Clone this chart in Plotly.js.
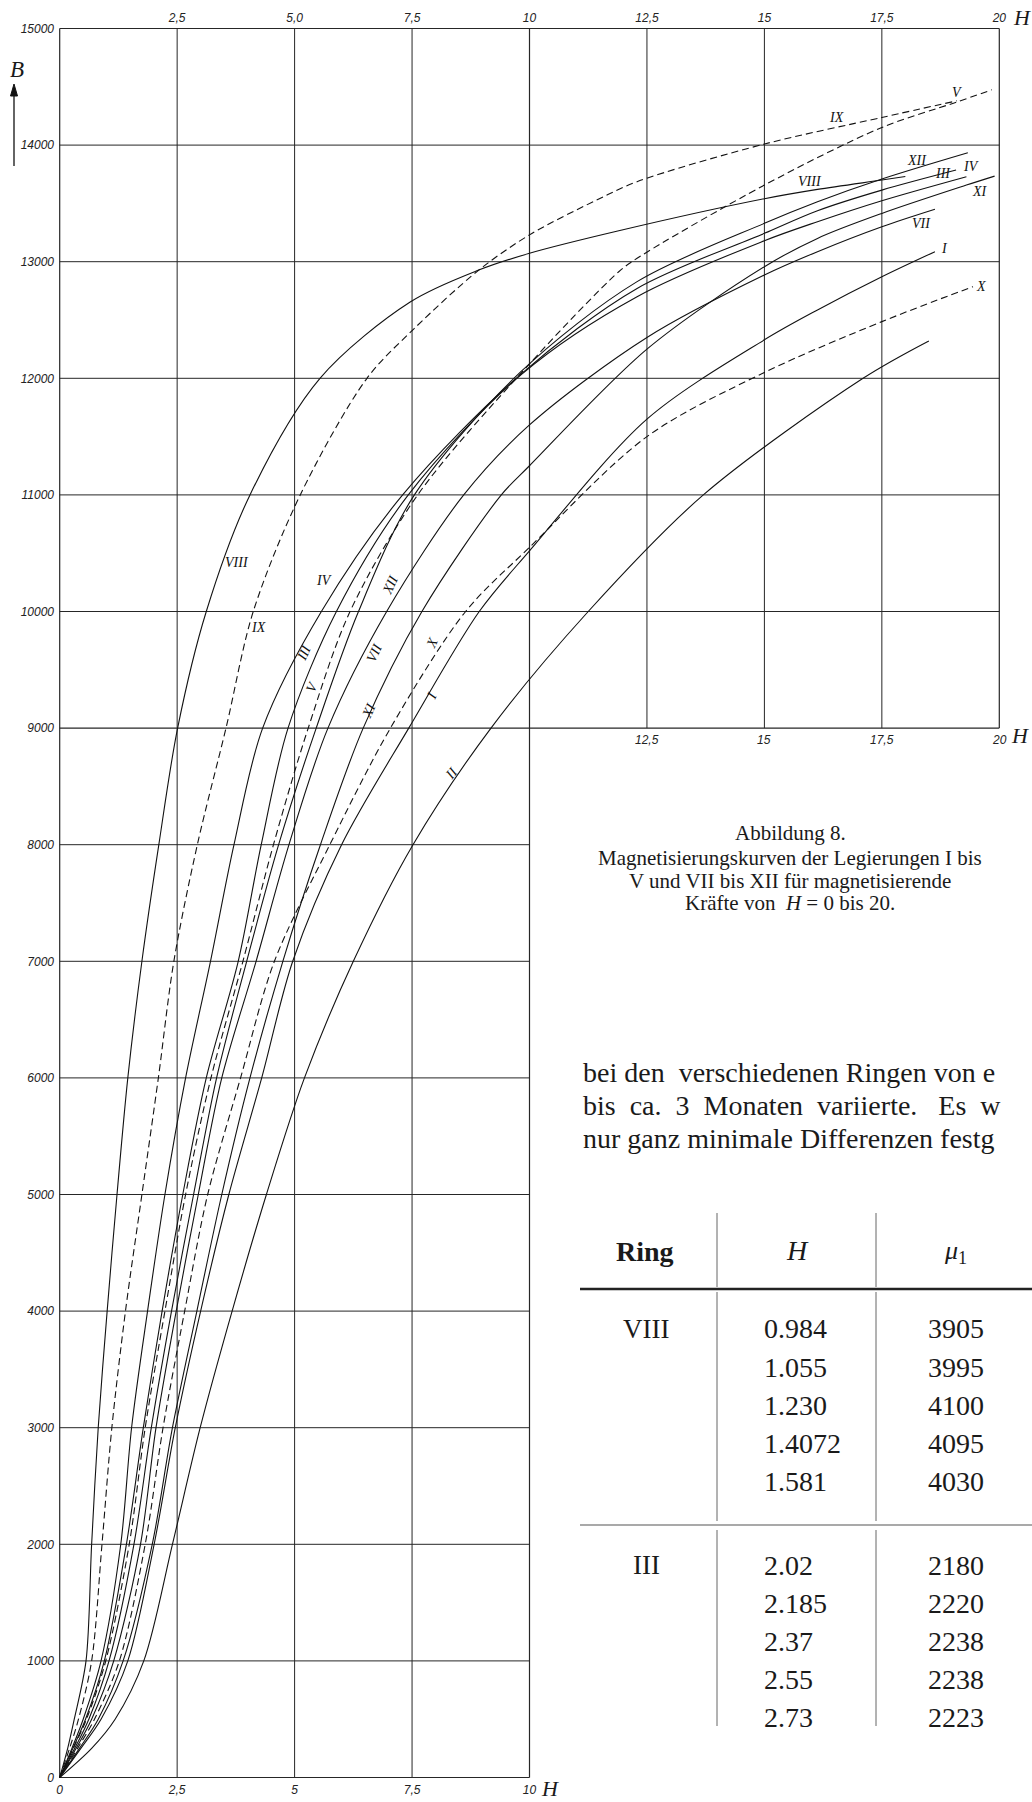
<!DOCTYPE html>
<html><head><meta charset="utf-8">
<script src="https://cdn.plot.ly/plotly-3.0.1.min.js"></script>
<style>html,body{margin:0;padding:0;background:#fff}#chart{width:1032px;height:1802px}</style>
</head><body><div id="chart"></div>
<script>
// ---------- data: B levels (Gauss) shared by the lower part of every curve ----------
const B_LOW = [0,250,500,1000,2000,3000,4000,5000,6000,7000,8000,9000,10000];

// H values read at B_LOW, then the upper continuation (H, B)
const VIII_H_low = [0,0.17,0.31,0.56,0.68,0.82,1.01,1.22,1.45,1.75,2.11,2.51,3.12];
const VIII_up_H  = [4.05,5.54,7.46,8.92,10,11.9,15,16.13,17.5,18.0];
const VIII_up_B  = [11000,12000,12654,12928,13072,13265,13540,13620,13700,13730];

const IX_H_low = [0,0.21,0.40,0.68,0.90,1.11,1.40,1.75,2.10,2.43,2.93,3.54,4.12];
const IX_up_H  = [5.12,6.54,7.54,8.92,10,11.38,12.29,15,17.5,19.1];
const IX_up_B  = [11000,12000,12424,12928,13230,13519,13686,14009,14237,14380];

const III_H_low = [0,0.26,0.50,0.88,1.30,1.53,1.87,2.24,2.68,3.21,3.71,4.32,5.57];
const III_up_H  = [7.3,9.8,12.29,15,16.13,17.5,19.08];
const III_up_B  = [11000,12030,12771,13243,13437,13614,13786];

const IV_H_low = [0,0.28,0.55,0.95,1.42,1.78,2.18,2.62,3.12,3.80,4.29,4.86,5.89];
const IV_up_H  = [7.42,9.85,12.29,15,16.13,17.5,19.3];
const IV_up_B  = [11000,12040,12700,13180,13343,13523,13729];

const V_H_low = [0,0.29,0.57,0.98,1.48,1.82,2.24,2.68,3.22,3.90,4.55,5.29,6.18];
const V_up_H  = [7.62,9.9,11.9,12.29,15,17.5,19.07,19.84];
const V_up_B  = [11000,12080,12914,13029,13657,14151,14366,14474];

const XII_H_low = [0,0.32,0.62,1.05,1.58,1.95,2.38,2.85,3.34,3.98,4.66,5.46,6.36];
const XII_up_H  = [7.55,9.8,12.29,15,16.13,17.5,19.33];
const XII_up_B  = [11000,12050,12829,13329,13514,13709,13934];

const VII_H_low = [0,0.35,0.68,1.15,1.72,2.05,2.48,2.95,3.45,4.18,4.88,5.71,6.96];
const VII_up_H  = [8.6,10,12.5,15,16.13,17.5,18.63];
const VII_up_B  = [11000,11600,12350,12886,13086,13300,13450];

const XI_H_low = [0,0.42,0.82,1.35,1.97,2.40,2.92,3.45,4.05,4.75,5.55,6.46,7.71];
const XI_up_H  = [9.4,10,12.5,15,16.13,17.5,19.3,19.9];
const XI_up_B  = [11000,11250,12250,12957,13200,13414,13657,13734];

const X_H_low = [0,0.38,0.74,1.27,1.82,2.20,2.66,3.15,3.85,4.57,5.75,7.04,8.64];
const X_up_H  = [10,12.5,15,17.5,19.44];
const X_up_B  = [10550,11500,12050,12486,12786];

const I_H_low = [0,0.45,0.88,1.45,2.01,2.46,3.00,3.60,4.30,4.96,6.00,7.43,8.93];
const I_up_H  = [10,12.5,15,16.13,17.5,18.63];
const I_up_B  = [10520,11650,12330,12586,12871,13086];

const II_H_low = [0,0.68,1.18,1.79,2.40,2.99,3.67,4.40,5.21,6.25,7.52,9.18,11.25];
const II_up_H  = [13.7,17.1,18.5];
const II_up_B  = [11000,12000,12320];

// axis ticks
const Y_TICKS = [0,1000,2000,3000,4000,5000,6000,7000,8000,9000,10000,11000,12000,13000,14000,15000];
const X_BOTTOM_TICKS = [0,2.5,5,7.5,10];
const X_BOTTOM_TEXT  = ['0','2,5','5','7,5','10'];
const X_TOP_TICKS = [2.5,5,7.5,10,12.5,15,17.5,20];
const X_TOP_TEXT  = ['2,5','5,0','7,5','10','12,5','15','17,5','20'];
const X_MID_TICKS = [12.5,15,17.5,20];
const X_MID_TEXT  = ['12,5','15','17,5','20'];

// table
const TABLE_HEAD = ['Ring','<i>H</i>','<i>μ</i><sub>1</sub>'];
const RING_A = 'VIII';
const RING_A_H  = ['0.984','1.055','1.230','1.4072','1.581'];
const RING_A_MU = ['3905','3995','4100','4095','4030'];
const RING_B = 'III';
const RING_B_H  = ['2.02','2.185','2.37','2.55','2.73'];
const RING_B_MU = ['2180','2220','2238','2238','2223'];

const CAPTION = ['Abbildung 8.',
  'Magnetisierungskurven der Legierungen I bis',
  'V und VII bis XII für magnetisierende',
  'Kräfte von  <i>H</i> = 0 bis 20.'];
const BODY = ['bei den  verschiedenen Ringen von e',
  'bis  ca.  3  Monaten  variierte.   Es  w',
  'nur ganz minimale Differenzen festg'];

// ---------- layout helpers ----------
const W=1032, HT=1802;
const M={l:55,r:28,t:25,b:21};
const PW=W-M.l-M.r, PH=HT-M.t-M.b;
const px=x=>(x-M.l)/PW, py=y=>(HT-M.b-y)/PH;
const INK='#121212', GRID='#262626';
const SERIF='Liberation Serif, Times New Roman, serif';
const SANS='Liberation Sans, Arial, sans-serif';

const curves=[
  ['VIII',VIII_H_low,VIII_up_H,VIII_up_B,'solid'],
  ['IX',IX_H_low,IX_up_H,IX_up_B,'7px,4px'],
  ['III',III_H_low,III_up_H,III_up_B,'solid'],
  ['IV',IV_H_low,IV_up_H,IV_up_B,'solid'],
  ['V',V_H_low,V_up_H,V_up_B,'7px,4px'],
  ['XII',XII_H_low,XII_up_H,XII_up_B,'solid'],
  ['VII',VII_H_low,VII_up_H,VII_up_B,'solid'],
  ['XI',XI_H_low,XI_up_H,XI_up_B,'solid'],
  ['X',X_H_low,X_up_H,X_up_B,'7px,4px'],
  ['I',I_H_low,I_up_H,I_up_B,'solid'],
  ['II',II_H_low,II_up_H,II_up_B,'solid']
];
const traces=curves.map(c=>({
  type:'scatter',mode:'lines',name:c[0],
  x:c[1].concat(c[2]), y:B_LOW.concat(c[3]),
  line:{color:INK,width:1.1,dash:c[4],shape:'spline',smoothing:0.9},
  hoverinfo:'skip',showlegend:false
}));
traces.push({type:'scatter',mode:'lines',x:[0,20],y:[15000,15000],xaxis:'x2',yaxis:'y',
  line:{color:GRID,width:1.2},showlegend:false,hoverinfo:'skip'});

// ---------- grid (L-shaped) ----------
const shapes=[];
const gl=(x0,y0,x1,y1,w)=>shapes.push({type:'line',xref:'x',yref:'y',x0,y0,x1,y1,line:{color:GRID,width:w||1},layer:'below'});
[0,2.5,5,7.5,10].forEach(h=>gl(h,0,h,15000,(h===0||h===10)?1.2:1));
[12.5,15,17.5,20].forEach(h=>gl(h,9000,h,15000,h===20?1.2:1));
[0,1000,2000,3000,4000,5000,6000,7000,8000].forEach(b=>gl(0,b,10,b,b===0?1.2:1));
[9000,10000,11000,12000,13000,14000].forEach(b=>gl(0,b,20,b,b===9000?1.2:1));

// arrow next to B
const pl=(x0,y0,x1,y1,w,c)=>shapes.push({type:'line',xref:'paper',yref:'paper',x0:px(x0),y0:py(y0),x1:px(x1),y1:py(y1),line:{color:c||INK,width:w||1}});
pl(14,166,14,90,1.3);
shapes.push({type:'path',xref:'paper',yref:'paper',
  path:`M ${px(10.5)} ${py(96)} L ${px(14)} ${py(84)} L ${px(17.5)} ${py(96)} Z`,
  fillcolor:INK,line:{color:INK,width:1}});

// table rules
pl(580,1289,1032,1289,2.4,'#222');
pl(580,1525,1032,1525,1.2,'#555');
[717,876].forEach(x=>{pl(x,1213,x,1287,1,'#666');pl(x,1292,x,1521,1,'#666');pl(x,1530,x,1726,1,'#666');});

// ---------- annotations ----------
const ann=[];
const pt=(x,y,text,size,opt)=>ann.push(Object.assign({xref:'paper',yref:'paper',x:px(x),y:py(y),text,showarrow:false,
  xanchor:'center',yanchor:'middle',font:{family:SERIF,size,color:'#1a1a1a'}},opt||{}));

// axis letters
pt(17,70,'<i>B</i>',23);
pt(1022,18,'<i>H</i>',22);
pt(1020,736,'<i>H</i>',22);
pt(550,1788,'<i>H</i>',22);
// labels under the 9000 line on the right
X_MID_TICKS.forEach((h,i)=>ann.push({xref:'x',yref:'y',x:h,y:9000,yshift:-12,text:X_MID_TEXT[i],showarrow:false,
  xanchor:'center',yanchor:'middle',font:{family:SANS,size:12,color:'#222',style:'italic'}}));

// curve labels
const cl=(t,h,b,ang)=>ann.push({xref:'x',yref:'y',x:h,y:b,text:t,showarrow:false,textangle:ang||0,
  xanchor:'center',yanchor:'middle',font:{family:SERIF,size:14,color:'#111',style:'italic'}});
cl('VIII',3.77,10421); cl('IX',4.23,9859); cl('IV',5.63,10262);
cl('III',5.19,9643,-65); cl('V',5.38,9354,-65); cl('XII',7.04,10233,-65);
cl('VII',6.69,9643,-65); cl('XI',6.58,9153,-65); cl('X',7.92,9729,-65);
cl('I',7.92,9282,-65); cl('II',8.36,8615,-50);
cl('IX',16.53,14237); cl('V',19.1,14451); cl('VIII',15.96,13690);
cl('XII',18.24,13871); cl('III',18.8,13757); cl('IV',19.4,13814);
cl('XI',19.58,13600); cl('VII',18.35,13329); cl('I',18.84,13114); cl('X',19.61,12786);

// caption
[833,858,881,903].forEach((y,i)=>pt(790,y,CAPTION[i],21));
// body text
[1072,1105,1138].forEach((y,i)=>pt(581,y,BODY[i],28,{xanchor:'left'}));
// table
pt(645,1251,'<b>Ring</b>',28);
pt(797,1250,TABLE_HEAD[1],28);
pt(955,1252,TABLE_HEAD[2],26);
pt(646,1329,RING_A,27);
RING_A_H.forEach((v,i)=>{pt(762,1329+i*38,v,28,{xanchor:'left'});pt(956,1329+i*38,RING_A_MU[i],28);});
pt(646,1565,RING_B,27);
RING_B_H.forEach((v,i)=>{pt(762,1565+i*38,v,28,{xanchor:'left'});pt(956,1565+i*38,RING_B_MU[i],28);});

const tickFont={family:SANS,size:12,color:'#222',style:'italic'};
const layout={
  width:W,height:HT,margin:M,paper_bgcolor:'#fff',plot_bgcolor:'rgba(0,0,0,0)',
  showlegend:false,
  xaxis:{range:[-0.1,20.1],tickvals:X_BOTTOM_TICKS,ticktext:X_BOTTOM_TEXT,showgrid:false,zeroline:false,
    showline:false,ticks:'',tickfont:tickFont,fixedrange:true},
  xaxis2:{range:[-0.1,20.1],overlaying:'x',side:'top',anchor:'y',tickvals:X_TOP_TICKS,ticktext:X_TOP_TEXT,
    showgrid:false,zeroline:false,showline:false,ticks:'',tickfont:tickFont,fixedrange:true},
  yaxis:{range:[-30,15030],tickvals:Y_TICKS,ticktext:Y_TICKS.map(String),showgrid:false,zeroline:false,
    showline:false,ticks:'',tickfont:tickFont,fixedrange:true},
  shapes,annotations:ann
};
Plotly.newPlot('chart',traces,layout,{staticPlot:true,displayModeBar:false});
</script></body></html>
